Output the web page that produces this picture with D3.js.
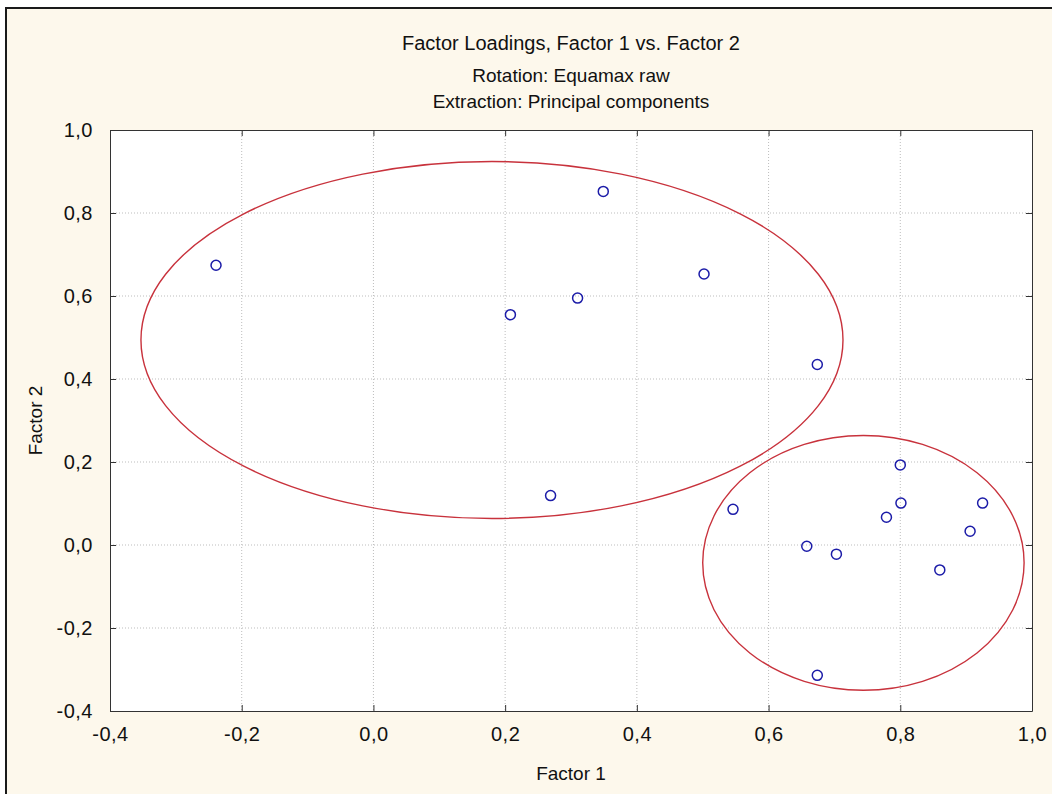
<!DOCTYPE html>
<html>
<head>
<meta charset="utf-8">
<script src="https://cdn.jsdelivr.net/npm/d3@7"></script>
<style>
  html, body { margin: 0; padding: 0; background: #ffffff; }
  svg { display: block; }
  text { font-family: "Liberation Sans", Arial, sans-serif; fill: #111; }
</style>
</head>
<body>
<script>
// ---- data ----
const factor1 = [-0.239, 0.349, 0.208, 0.310, 0.502, 0.674, 0.269, 0.546, 0.800, 0.801, 0.779, 0.925, 0.906, 0.658, 0.703, 0.860, 0.674];
const factor2 = [0.674, 0.852, 0.555, 0.595, 0.653, 0.435, 0.119, 0.086, 0.193, 0.101, 0.067, 0.101, 0.033, -0.003, -0.022, -0.060, -0.314];

const ellipseCx = [0.180, 0.744];
const ellipseCy = [0.494, -0.043];
const ellipseRx = [0.533, 0.244];
const ellipseRy = [0.430, 0.307];

const xTicks = [-0.4, -0.2, 0.0, 0.2, 0.4, 0.6, 0.8, 1.0];
const yTicks = [-0.4, -0.2, 0.0, 0.2, 0.4, 0.6, 0.8, 1.0];
const xTickLabels = ["-0,4", "-0,2", "0,0", "0,2", "0,4", "0,6", "0,8", "1,0"];
const yTickLabels = ["-0,4", "-0,2", "0,0", "0,2", "0,4", "0,6", "0,8", "1,0"];

const titleLines = ["Factor Loadings, Factor 1 vs. Factor 2", "Rotation: Equamax raw", "Extraction: Principal components"];
const xLabel = "Factor 1";
const yLabel = "Factor 2";

// ---- layout ----
const W = 1052, H = 794;
const L = 110, R = 1032, T = 130, B = 711;

const svg = d3.select("body").append("svg").attr("width", W).attr("height", H);

// outer frame
svg.append("rect").attr("x", 6).attr("y", 8).attr("width", W + 10).attr("height", H + 10)
  .attr("fill", "#fdf8ec").attr("stroke", "#1a1a1a").attr("stroke-width", 2);

const x = d3.scaleLinear().domain([-0.4, 1.0]).range([L, R]);
const y = d3.scaleLinear().domain([-0.4, 1.0]).range([B, T]);

// plot background
svg.append("rect").attr("x", L).attr("y", T).attr("width", R - L).attr("height", B - T).attr("fill", "#ffffff");

// gridlines
const grid = svg.append("g");
grid.selectAll("line.gx").data(xTicks.slice(1, -1)).join("line")
  .attr("x1", d => x(d)).attr("x2", d => x(d)).attr("y1", T).attr("y2", B)
  .attr("stroke", "#bdbdbd").attr("stroke-width", 1).attr("stroke-dasharray", "1,2");
grid.selectAll("line.gy").data(yTicks.slice(1, -1)).join("line")
  .attr("y1", d => y(d)).attr("y2", d => y(d)).attr("x1", L).attr("x2", R)
  .attr("stroke", "#bdbdbd").attr("stroke-width", 1).attr("stroke-dasharray", "1,2");

// axes with inward ticks
const fmtX = (d, i) => xTickLabels[i];
const fmtY = (d, i) => yTickLabels[i];
const axB = svg.append("g").attr("transform", `translate(0,${B})`)
  .call(d3.axisBottom(x).tickValues(xTicks).tickFormat(fmtX).tickSizeInner(-6).tickSizeOuter(0).tickPadding(16));
const axL = svg.append("g").attr("transform", `translate(${L},0)`)
  .call(d3.axisLeft(y).tickValues(yTicks).tickFormat(fmtY).tickSizeInner(-6).tickSizeOuter(0).tickPadding(17));
const axT = svg.append("g").attr("transform", `translate(0,${T})`)
  .call(d3.axisTop(x).tickValues(xTicks).tickFormat("").tickSizeInner(-6).tickSizeOuter(0));
const axR = svg.append("g").attr("transform", `translate(${R},0)`)
  .call(d3.axisRight(y).tickValues(yTicks).tickFormat("").tickSizeInner(-6).tickSizeOuter(0));
[axB, axL, axT, axR].forEach(a => {
  a.attr("font-size", 20);
  a.selectAll("path.domain").attr("stroke", "#333");
  a.selectAll(".tick line").attr("stroke", "#333");
  a.selectAll("text").attr("font-size", 20).attr("fill", "#111")
    .style("font-family", '"Liberation Sans", Arial, sans-serif')
    .style("letter-spacing", "0.5px");
});

// ellipses
svg.append("clipPath").attr("id", "pc").append("rect")
  .attr("x", L).attr("y", T).attr("width", R - L).attr("height", B - T);
svg.append("g").attr("clip-path", "url(#pc)").selectAll("ellipse").data(ellipseCx).join("ellipse")
  .attr("cx", (d, i) => x(ellipseCx[i]))
  .attr("cy", (d, i) => y(ellipseCy[i]))
  .attr("rx", (d, i) => x(ellipseRx[i]) - x(0))
  .attr("ry", (d, i) => y(0) - y(ellipseRy[i]))
  .attr("fill", "none").attr("stroke", "#c8323c").attr("stroke-width", 1.4);

// points
svg.append("g").selectAll("circle").data(factor1).join("circle")
  .attr("cx", (d, i) => x(factor1[i]))
  .attr("cy", (d, i) => y(factor2[i]))
  .attr("r", 5)
  .attr("fill", "none").attr("stroke", "#1c1ca8").attr("stroke-width", 1.5);

// titles
const cx = (L + R) / 2;
svg.append("g").selectAll("text").data(titleLines).join("text")
  .attr("x", cx).attr("y", (d, i) => [50, 82, 108][i])
  .attr("text-anchor", "middle").attr("font-size", (d, i) => i === 0 ? 20 : 19).text(d => d);

svg.append("text").attr("x", cx).attr("y", 780).attr("text-anchor", "middle")
  .attr("font-size", 19).text(xLabel);
svg.append("text").attr("transform", `translate(42,${(T + B) / 2}) rotate(-90)`)
  .attr("text-anchor", "middle").attr("font-size", 19).text(yLabel);
</script>
</body>
</html>
